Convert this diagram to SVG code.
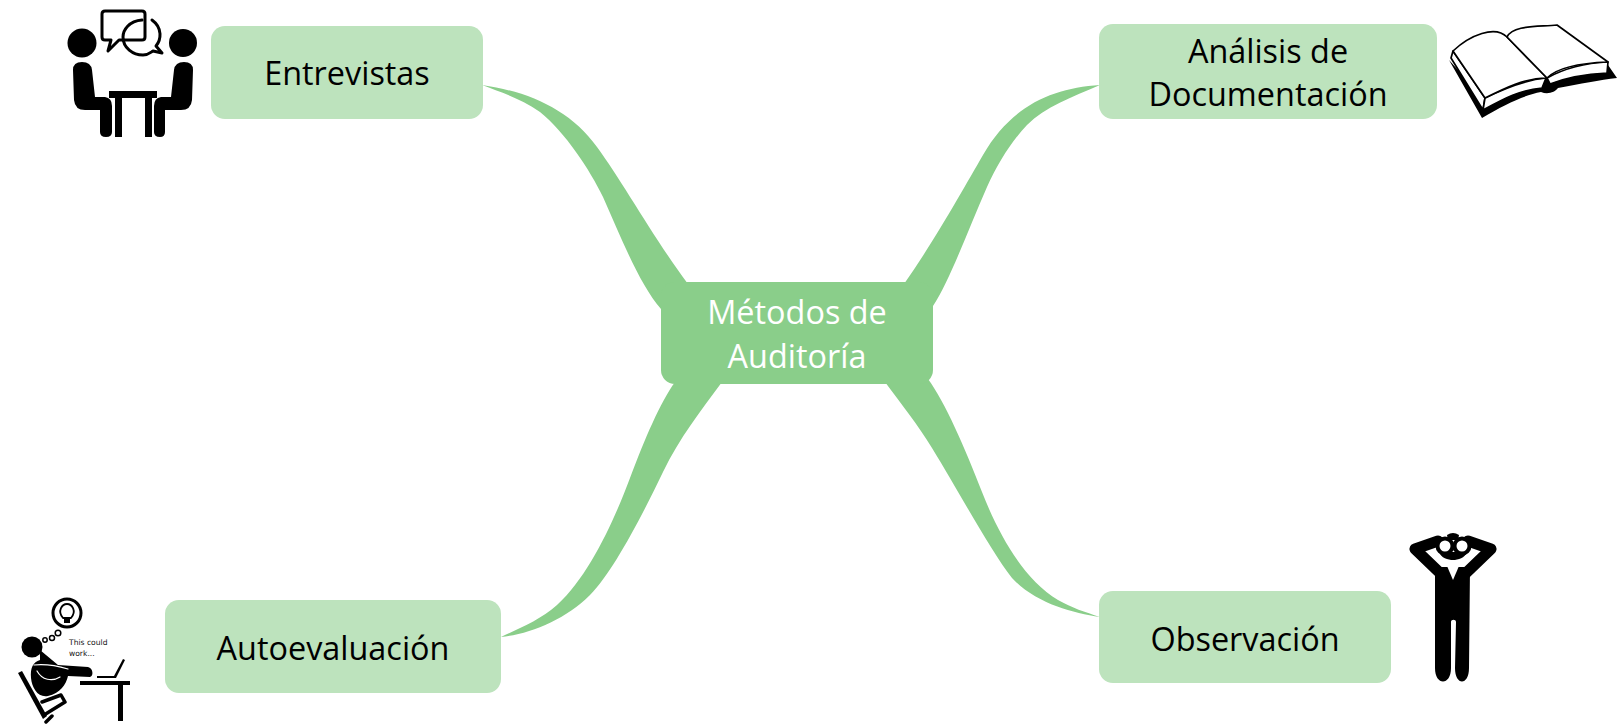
<svg xmlns="http://www.w3.org/2000/svg" width="1620" height="724" viewBox="0 0 1620 724">
<style>
.rib{fill:#8ace8a}
.leaf{fill:#bde3bd}
.t{font-family:"Open Sans","Noto Sans",sans-serif;font-size:32.4px;text-anchor:middle;fill:#000}
.c{fill:#fff}
.k{fill:#000}
.ol{fill:none;stroke:#000;stroke-width:3;stroke-linejoin:round;stroke-linecap:round}
.th{fill:none;stroke:#000;stroke-width:1.5}
.lk{fill:none;stroke:#000;stroke-linecap:round;stroke-linejoin:round}
.bk{fill:#fff;stroke:#000;stroke-width:1.7;stroke-linejoin:round}
.sm{font-family:"DejaVu Sans",sans-serif;font-size:7.6px;fill:#111}
</style>
<rect width="1620" height="724" fill="#fff"/>
<g id="connectors">
<path class="rib" d="M482 85C530 92 570 110 597 147C622 181 655 240 688 284L661 309C640 285 622 240 603 197C590 170 565 132 540 112C520 98 500 92 482 85Z"/>
<path class="rib" d="M1100 85C1052 88 1011 106 983 155C965 186 935 240 904 284L933 306C950 280 968 230 987 187C998 163 1011 142 1027 125C1045 107 1072 97 1100 85Z"/>
<path class="rib" d="M675 382C660 403 645 438 630 478C615 518 590 575 557 605C540 620 520 628 501 637C530 634 565 620 590 595C612 573 640 520 663 472C680 437 700 412 722 382Z"/>
<path class="rib" d="M928 379C945 402 965 448 982 492C1000 538 1025 580 1058 600C1072 608 1085 612 1100 617C1072 613 1035 603 1012 578C990 550 958 490 932 448C918 425 902 405 885 382Z"/>
</g>
<g id="node-center">
<rect x="661" y="282" width="272" height="102" rx="14" class="rib"/>
<text class="t c" x="797" y="324">Métodos de</text>
<text class="t c" x="797" y="368">Auditoría</text>
</g>
<g id="node-entrevistas">
<rect x="211" y="26" width="272" height="93" rx="14" class="leaf"/>
<text class="t" x="347" y="85">Entrevistas</text>
<g id="icon-interview">
<circle class="k" cx="82" cy="43" r="14.5"/><circle class="k" cx="183" cy="43" r="14"/>
<path class="k" d="M73 70Q73 62 82 62Q91 62 92 70L95 97H105Q112 98 112 106V132Q112 137 106 137Q100 137 100 132V110H85Q75 110 74 100Z"/>
<path class="k" d="M193 70Q193 62 184 62Q175 62 174 70L171 97H161Q154 98 154 106V132Q154 137 160 137Q165 137 165 132V110H181Q191 110 192 100Z"/>
<path class="k" d="M109 91H157V98H152V137H145V98H122V137H115V98H109Z"/>
<path class="ol" d="M105 11H142Q145 11 145 14V37Q145 40 142 40H119L108 51L111 40H105Q102 40 102 37V14Q102 11 105 11Z"/>
<path class="ol" d="M142 20C129 21 123 30 123 37C123 48 133 55 143 55C148 55 150 53 153 51L162 53L156 46C161 40 163 28 152 20"/>
</g>
</g>
<g id="node-analisis">
<rect x="1099" y="24" width="338" height="95" rx="14" class="leaf"/>
<text class="t" x="1268" y="63">Análisis de</text>
<text class="t" x="1268" y="106">Documentación</text>
<g id="icon-book">
<path class="k" d="M1449 60L1482 118C1505 104 1525 95 1541 92C1548 95 1555 92 1558 88C1580 84 1600 80 1617 78L1608 65L1545 78L1485 100Z"/>
<path class="bk" d="M1453 51L1485 98L1483 110L1451 58Z"/>
<path class="bk" d="M1485 98C1505 88 1525 80 1546 78L1542 88C1520 90 1505 98 1483 110Z"/>
<path class="bk" d="M1547 78C1565 68 1585 63 1608 62L1607 73C1585 74 1565 78 1550 84Z"/>
<path class="bk" d="M1453 51C1470 35 1495 25 1507 37L1547 78C1525 78 1505 88 1485 98Z"/>
<path class="bk" d="M1507 37C1513 25 1537 27 1557 25L1608 62C1580 63 1557 68 1547 78Z"/>
</g>
</g>
<g id="node-autoevaluacion">
<rect x="165" y="600" width="336" height="93" rx="14" class="leaf"/>
<text class="t" x="333" y="660">Autoevaluación</text>
<g id="icon-thinking">
<circle class="ol" cx="67" cy="613" r="14"/>
<path class="lk" style="stroke-width:1.8" d="M63 618C57 611 62 604 67 604C72 604 77 611 71 618Z"/>
<path class="k" d="M64 619H70V623H64Z"/>
<circle class="th" cx="58" cy="633" r="2.8"/><circle class="th" cx="52" cy="638" r="2.5"/><circle class="th" cx="45" cy="640" r="2.2"/>
<text class="sm" x="69" y="645">This could</text>
<text class="sm" x="69" y="656">work...</text>
<circle class="k" cx="32" cy="647" r="10.5"/>
<path class="k" d="M40 650L58 665L88 667C93 668 94 676 90 677L68 676C66 685 60 693 48 696C38 698 32 688 31 678C30 668 33 662 40 660Z"/>
<path class="lk" style="stroke:#fff;stroke-width:1.2" d="M34 665C44 664 58 666 68 669M37 671C42 680 52 682 60 677"/>
<path class="k" d="M18 673L22 671L47 716L43 719Z"/>
<path class="lk" style="stroke-width:3.5" d="M42 702L61 695L65 702L44 715M52 716L46 722"/>
<path class="k" d="M80 681H130V685H123V721H118V685H80Z"/>
<path class="k" d="M97 676H114L123 659L125 660L116 678H97Z"/>
</g>
</g>
<g id="node-observacion">
<rect x="1099" y="591" width="292" height="92" rx="14" class="leaf"/>
<text class="t" x="1245" y="651">Observación</text>
<g id="icon-observer">
<path class="lk" style="stroke-width:11" d="M1438 541L1415 549L1441 574"/>
<path class="lk" style="stroke-width:11" d="M1468 541L1491 549L1465 574"/>
<path class="k" d="M1435 567H1470L1469 668C1469 686 1455 686 1455 668L1456 622C1456 619 1451 619 1451 622V668C1451 686 1435 686 1435 668Z"/>
<path d="M1447 566L1453 580L1459 566Z" fill="#fff"/>
<path class="k" d="M1439 552H1467C1465 558 1458 560 1453 560C1448 560 1441 558 1439 552Z"/>
<path class="k" d="M1447 535Q1453 531 1459 535L1458 540H1448Z"/>
<circle cx="1445" cy="546" r="7.5" fill="#fff" stroke="#000" stroke-width="4"/>
<circle cx="1462" cy="546" r="7.5" fill="#fff" stroke="#000" stroke-width="4"/>
</g>
</g>
</svg>
